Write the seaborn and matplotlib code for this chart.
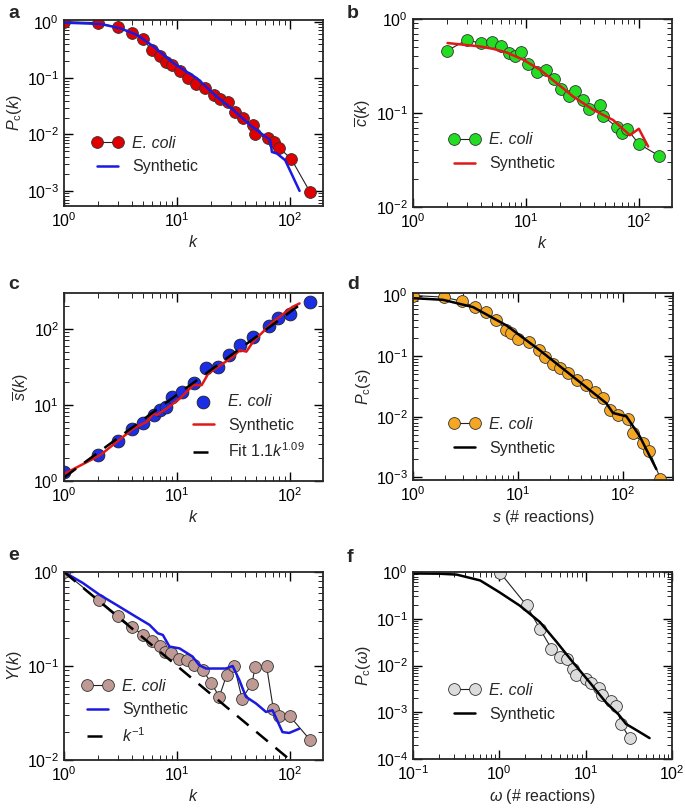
import matplotlib
matplotlib.use("Agg")
import matplotlib.pyplot as plt
import matplotlib.ticker as mticker
import seaborn as sns
import numpy as np

# ---- panel a : P_c(k)
a_k = [1, 2, 3, 4, 5, 6, 7, 8, 9, 10.7, 12.4, 14.8, 17.8, 21.1, 24.1, 28, 32.7, 38.2, 46.5, 49.1, 63.5, 72.2, 80, 102, 150]
a_p = [1.0, 0.96, 0.79, 0.62, 0.49, 0.31, 0.246, 0.195, 0.17, 0.134, 0.10, 0.08, 0.066, 0.05, 0.042, 0.038,
       0.025, 0.020, 0.015, 0.0104, 0.0085, 0.0075, 0.0058, 0.0037, 0.00095]
a_syn_k = [1, 2.11, 3.16, 4.44, 6.22, 7.63, 9.34, 15.0, 22.5, 31.6, 44.4, 58.2, 66.6, 68.9, 76.3, 90.3, 121]
a_syn_p = [0.96, 0.91, 0.76, 0.58, 0.36, 0.256, 0.182, 0.099, 0.0465, 0.027, 0.0146, 0.0097, 0.0079, 0.0049,
           0.0046, 0.0035, 0.001]

# ---- panel b : c(k)
b_k = [2, 3, 4, 5, 6, 7, 8, 9, 10.5, 12.5, 15, 17.5, 20.5, 24, 27, 32, 36, 45, 48, 63, 71, 78, 99, 150]
b_c = [0.46, 0.60, 0.55, 0.57, 0.52, 0.43, 0.40, 0.45, 0.33, 0.275, 0.285, 0.23, 0.18, 0.15, 0.17, 0.138,
       0.11, 0.122, 0.093, 0.071, 0.061, 0.068, 0.047, 0.035]
b_syn_k = [2.02, 3.93, 5.15, 6.75, 9.47, 13.3, 18.7, 26.2, 39.3, 59, 82.7, 99.3, 120]
b_syn_c = [0.555, 0.51, 0.48, 0.44, 0.368, 0.288, 0.207, 0.149, 0.108, 0.084, 0.058, 0.068, 0.044]

# ---- panel c : s(k)
c_k = [1, 2, 3, 4, 5, 6.2, 7, 8, 9, 11, 14, 18, 23, 29, 36, 47, 65, 78, 100, 150]
c_s = [1.31, 2.18, 3.36, 4.73, 5.8, 7.3, 8.5, 9.3, 12.7, 14.8, 19.5, 30.6, 31.6, 45, 61, 78, 108, 137, 154, 226]
c_syn_k = [1.03, 2.1, 4.13, 5.41, 6.19, 6.62, 8.11, 10.6, 13.9, 16.5, 18.9, 31.3, 35.8, 41, 47, 70.4, 105, 121]
c_syn_s = [1.25, 2.18, 4.88, 5.98, 7.69, 7.32, 8.95, 12.1, 18.1, 18.1, 25.8, 42.9, 52.3, 49.9, 67.5, 123, 194, 215]
c_fit_k = [1, 125]
c_fit_amp, c_fit_exp = 1.1, 1.09

# ---- panel d : P_c(s)
d_s = [1, 1.97, 2.95, 3.87, 5, 6.2, 7.7, 8.6, 10, 12.7, 16, 18, 21.5, 25, 30, 36.5, 44.8, 53.7, 64.4, 75.7,
       89.6, 112, 124, 155, 179, 227]
d_p = [1.0, 0.94, 0.80, 0.644, 0.533, 0.40, 0.273, 0.241, 0.195, 0.172, 0.125, 0.095, 0.074, 0.063, 0.053,
       0.04, 0.033, 0.026, 0.0203, 0.0127, 0.0108, 0.0092, 0.0054, 0.0037, 0.0027, 0.00095]
d_syn_s = [1, 1.93, 3.73, 7.74, 16.1, 33.4, 69.4, 80.4, 108, 144, 208]
d_syn_p = [0.904, 0.849, 0.644, 0.322, 0.125, 0.0458, 0.0167, 0.0115, 0.0101, 0.0048, 0.00136]

# ---- panel e : Y(k)
e_k = [1, 2.02, 3, 4, 5, 6, 7, 7.8, 8.85, 10.5, 12.2, 14.2, 16.8, 20, 23.6, 27.4, 32, 37.5, 45.9, 49, 61.8,
       70.8, 78.9, 99.3, 149]
e_y = [1.0, 0.507, 0.342, 0.259, 0.214, 0.185, 0.164, 0.142, 0.139, 0.118, 0.116, 0.102, 0.0906, 0.0664,
       0.047, 0.080, 0.10, 0.045, 0.065, 0.098, 0.10, 0.0353, 0.0292, 0.0292, 0.0165]
e_syn_k = [1, 1.47, 2.06, 2.9, 4.06, 5.7, 6.75, 7.48, 8.56, 10.5, 13.7, 15.7, 18.0, 27.0, 31.0, 35.5, 40.6,
           49.8, 61, 69.8, 85.5, 98, 120]
e_syn_y = [1.0, 0.763, 0.573, 0.448, 0.35, 0.274, 0.223, 0.214, 0.161, 0.154, 0.126, 0.102, 0.094, 0.094,
           0.1, 0.071, 0.047, 0.04, 0.0325, 0.0338, 0.0198, 0.0194, 0.0215]
e_ref_k = [1, 100]

# ---- panel f : P_c(omega)
f_w = [1.02, 2.07, 2.95, 4.02, 5.01, 6.14, 7.14, 7.8, 10.2, 11.6, 14.3, 15.4, 19.8, 22.6, 25.8, 32.2]
f_p = [0.967, 0.193, 0.061, 0.0228, 0.0151, 0.0139, 0.0085, 0.0063, 0.0052, 0.0043, 0.0033, 0.0023, 0.0017,
       0.00139, 0.00056, 0.00028]
f_syn_w = [0.1, 0.2, 0.32, 0.6, 1.0, 1.73, 2.95, 4.6, 7.1, 11.1, 17.3, 24, 29.4, 40, 55]
f_syn_p = [0.93, 0.92, 0.88, 0.66, 0.37, 0.19, 0.085, 0.032, 0.0118, 0.0044, 0.0016, 0.0009, 0.00056,
           0.0004, 0.00028]

sns.set_style("ticks")
plt.rcParams.update({
    'font.family': ['Liberation Sans', 'DejaVu Sans'],
    'mathtext.fontset': 'custom',
    'mathtext.rm': 'Liberation Sans',
    'mathtext.it': 'Liberation Sans:italic',
    'font.size': 11.5,
    'axes.linewidth': 1.3,
    'xtick.direction': 'in', 'ytick.direction': 'in',
    'xtick.top': True, 'ytick.right': True,
    'xtick.major.size': 6.5, 'ytick.major.size': 6.5,
    'xtick.minor.size': 3.5, 'ytick.minor.size': 3.5,
    'xtick.major.width': 1.0, 'ytick.major.width': 1.0,
    'xtick.color': 'black', 'ytick.color': 'black',
})

ECOLI = 'E. coli'

fig = plt.figure(figsize=(6.85, 8.09), dpi=100)
W, H = 685, 809


def make_ax(left, top, right, bottom):
    return fig.add_axes([left / W, 1 - bottom / H, (right - left) / W, (bottom - top) / H])


def style(ax, xlim, ylim, xlabel, ylabel):
    ax.set(xscale='log', yscale='log')
    ax.set_xlim(*xlim)
    ax.set_ylim(*ylim)
    for axis in (ax.xaxis, ax.yaxis):
        axis.set_major_locator(mticker.LogLocator(base=10, numticks=20))
        axis.set_minor_locator(mticker.LogLocator(base=10, subs=np.arange(2, 10), numticks=20))
        axis.set_minor_formatter(mticker.NullFormatter())
    ax.set_xlabel(xlabel, labelpad=3)
    ax.set_ylabel(ylabel, labelpad=2)


def ecoli(ax, x, y, color):
    sns.lineplot(x=x, y=y, ax=ax, estimator=None, sort=False, color='#222222', lw=0.8,
                 marker='o', ms=8.5, mfc=color, mec='#333333', mew=0.6, label=ECOLI)


def synth(ax, x, y, color):
    ax.plot(x, y, color=color, lw=1.8, label='Synthetic')


def legend(ax, x0, y0):
    leg = ax.legend(loc='lower left', bbox_to_anchor=(x0, y0), frameon=False, numpoints=2,
                    handlelength=1.9, handletextpad=0.6, labelspacing=0.55, borderpad=0, borderaxespad=0)
    for t in leg.get_texts():
        if t.get_text() == ECOLI:
            t.set_fontstyle('italic')


# a
ax = make_ax(64, 20, 323, 206)
ecoli(ax, a_k, a_p, '#e00000')
synth(ax, a_syn_k, a_syn_p, '#1a1ae0')
style(ax, (1, 195), (5.4e-4, 1.07), r'$k$', r'$P_{\rm c}(k)$')
legend(ax, 0.11, 0.17)

# b
ax = make_ax(413, 19, 672, 207)
ecoli(ax, b_k, b_c, '#22dd22')
synth(ax, b_syn_k, b_syn_c, '#e01818')
style(ax, (1, 195), (0.01, 1), r'$k$', r'$\overline{c}(k)$')
legend(ax, 0.14, 0.19)

# c
ax = make_ax(64, 293, 323, 481)
sns.scatterplot(x=c_k, y=c_s, ax=ax, s=85, color='#1a2ee6', edgecolor='#222222', linewidth=0.6,
                label=ECOLI, zorder=2)
synth(ax, c_syn_k, c_syn_s, '#e01818')
fit_k = np.array(c_fit_k, dtype=float)
ax.plot(fit_k, c_fit_amp * fit_k ** c_fit_exp, color='black', lw=1.8, ls=(0, (6, 4)),
        label=r'Fit $1.1k^{1.09}$')
style(ax, (1, 195), (0.99, 295), r'$k$', r'$\overline{s}(k)$')
legend(ax, 0.48, 0.11)

# d
ax = make_ax(413, 293, 673, 480)
ecoli(ax, d_s, d_p, '#f5a623')
synth(ax, d_syn_s, d_syn_p, 'black')
style(ax, (1, 300), (9e-4, 1.1), r'$s$ (# reactions)', r'$P_{\rm c}(s)$')
legend(ax, 0.14, 0.13)

# e
ax = make_ax(64, 572, 323, 760)
ecoli(ax, e_k, e_y, '#bf9a95')
synth(ax, e_syn_k, e_syn_y, '#1a1ae0')
ref_k = np.array(e_ref_k, dtype=float)
ax.plot(ref_k, 1 / ref_k, color='black', lw=1.8, ls=(0, (6, 4)), label=r'$k^{-1}$')
style(ax, (1, 195), (0.01, 1), r'$k$', r'$Y(k)$')
legend(ax, 0.07, 0.08)

# f
ax = make_ax(413, 572, 672, 759)
ecoli(ax, f_w, f_p, '#dcdcdc')
synth(ax, f_syn_w, f_syn_p, 'black')
style(ax, (0.1, 100), (1e-4, 1), r'$\omega$ (# reactions)', r'$P_{\rm c}(\omega)$')
legend(ax, 0.14, 0.2)

for lab, (x, y) in zip('abcdef', [(8, 14), (347, 14), (8, 285), (347, 285), (8, 556), (347, 558)]):
    fig.text(x / W, 1 - y / H, lab, fontsize=14, fontweight='bold', va='center', ha='left')

fig.savefig('out.png', dpi=100)
